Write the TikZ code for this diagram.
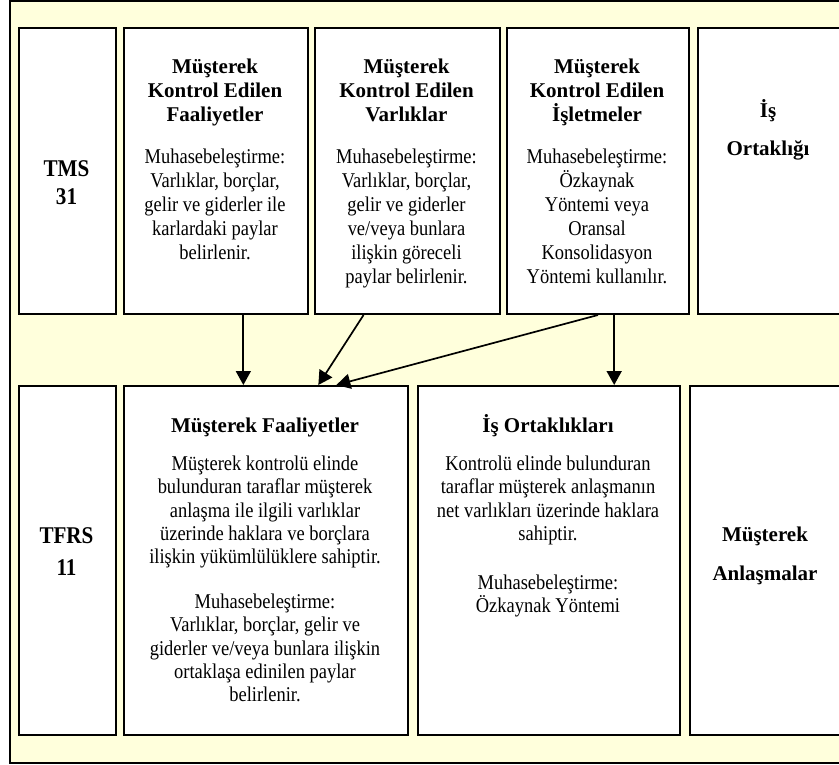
\documentclass[tikz,border=0pt]{standalone}
\usepackage{fontspec}
\setmainfont{Liberation Serif}
\newfontfamily\bodyfont{Liberation Serif}[FakeStretch=0.88]
\newfontfamily\condfont{Liberation Serif}[FakeStretch=0.88]
\usetikzlibrary{arrows.meta,calc}
\definecolor{bgyellow}{RGB}{255,255,220}
\begin{document}
\begin{tikzpicture}[x=1pt,y=-1pt,
  box/.style={draw=black,line width=2pt,fill=white,rectangle,inner sep=0pt,anchor=north west},
  ttl/.style={anchor=north,inner sep=0pt,align=center,font=\fontsize{21}{24}\selectfont\bfseries},
  std/.style={anchor=north,inner sep=0pt,align=center,font=\condfont\fontsize{24}{28}\selectfont\bfseries},
  bdy/.style={anchor=north,inner sep=0pt,align=center,font=\bodyfont\fontsize{21}{24}\selectfont},
  bdyb/.style={anchor=north,inner sep=0pt,align=center,font=\bodyfont\fontsize{21}{23.4}\selectfont},
  arr/.style={line width=1.7pt,-{Triangle[length=14pt,width=15pt]}},
]
\useasboundingbox (0,0) rectangle (839,765);
\draw[line width=2pt,fill=bgyellow] (10,1) rectangle (852,763);

% top row
\node[box,minimum width=97pt,minimum height=286pt] (tms) at (18,27) {};
\node[box,minimum width=184pt,minimum height=286pt] (kf) at (123,27) {};
\node[box,minimum width=185pt,minimum height=286pt] (kv) at (314,27) {};
\node[box,minimum width=182pt,minimum height=286pt] (ki) at (506,27) {};
\node[box,minimum width=144pt,minimum height=286pt] (io) at (697,27) {};
% bottom row
\node[box,minimum width=97pt,minimum height=349pt] (tfrs) at (18,385) {};
\node[box,minimum width=284pt,minimum height=349pt] (mf) at (123,385) {};
\node[box,minimum width=262pt,minimum height=349pt] (ioo) at (417,385) {};
\node[box,minimum width=152pt,minimum height=349pt] (ma) at (689,385) {};

% texts top row
\node[std] (tmst) at (66.5,156) {\rule{0pt}{20pt}TMS\\31};
\node[ttl] (kft) at (215,53) {\rule{0pt}{20pt}Müşterek\\Kontrol Edilen\\Faaliyetler};
\node[bdy] (kfb) at (215,143) {\rule{0pt}{20pt}Muhasebeleştirme:\\Varlıklar, borçlar,\\gelir ve giderler ile\\karlardaki paylar\\belirlenir.};
\node[ttl] (kvt) at (406.5,53) {\rule{0pt}{20pt}Müşterek\\Kontrol Edilen\\Varlıklar};
\node[bdy] (kvb) at (406.5,143) {\rule{0pt}{20pt}Muhasebeleştirme:\\Varlıklar, borçlar,\\gelir ve giderler\\ve/veya bunlara\\ilişkin göreceli\\paylar belirlenir.};
\node[ttl] (kit) at (597,53) {\rule{0pt}{20pt}Müşterek\\Kontrol Edilen\\İşletmeler};
\node[bdy] (kib) at (597,143) {\rule{0pt}{20pt}Muhasebeleştirme:\\Özkaynak\\Yöntemi veya\\Oransal\\Konsolidasyon\\Yöntemi kullanılır.};
\node[ttl,font=\fontsize{21}{38}\selectfont\bfseries] (iot) at (768,97) {\rule{0pt}{20pt}İş\\Ortaklığı};

% texts bottom row
\node[std,font=\condfont\fontsize{24}{32}\selectfont\bfseries] (tfrst) at (66.5,523) {\rule{0pt}{20pt}TFRS\\11};
\node[ttl] (mft) at (265,412) {\rule{0pt}{20pt}Müşterek Faaliyetler};
\node[bdyb] (mfb1) at (265,450) {\rule{0pt}{20pt}Müşterek kontrolü elinde\\bulunduran taraflar müşterek\\anlaşma ile ilgili varlıklar\\üzerinde haklara ve borçlara\\ilişkin yükümlülüklere sahiptir.};
\node[bdyb] (mfb2) at (265,588) {\rule{0pt}{20pt}Muhasebeleştirme:\\Varlıklar, borçlar, gelir ve\\giderler ve/veya bunlara ilişkin\\ortaklaşa edinilen paylar\\belirlenir.};
\node[ttl] (ioot) at (548,412) {\rule{0pt}{20pt}İş Ortaklıkları};
\node[bdyb] (ioob1) at (548,450) {\rule{0pt}{20pt}Kontrolü elinde bulunduran\\taraflar müşterek anlaşmanın\\net varlıkları üzerinde haklara\\sahiptir.};
\node[bdyb] (ioob2) at (548,569) {\rule{0pt}{20pt}Muhasebeleştirme:\\Özkaynak Yöntemi};
\node[ttl,font=\fontsize{21}{39}\selectfont\bfseries] (mat) at (765,521) {\rule{0pt}{20pt}Müşterek\\Anlaşmalar};

% arrows
\coordinate (a1s) at ($(kf.south west)!0.647!(kf.south east)$);
\coordinate (a2s) at ($(kv.south west)!0.265!(kv.south east)$);
\coordinate (a2e) at ($(mf.north west)!0.683!(mf.north east)$);
\coordinate (a3e) at ($(mf.north west)!0.746!(mf.north east)$);
\coordinate (a4s) at ($(ki.south west)!0.588!(ki.south east)$);
\draw[arr] (a1s) -- (a1s |- mf.north);
\draw[arr] (a2s) -- (a2e);
\draw[arr] (ki.south) -- (a3e);
\draw[arr] (a4s) -- (a4s |- ioo.north);
\end{tikzpicture}
\end{document}
